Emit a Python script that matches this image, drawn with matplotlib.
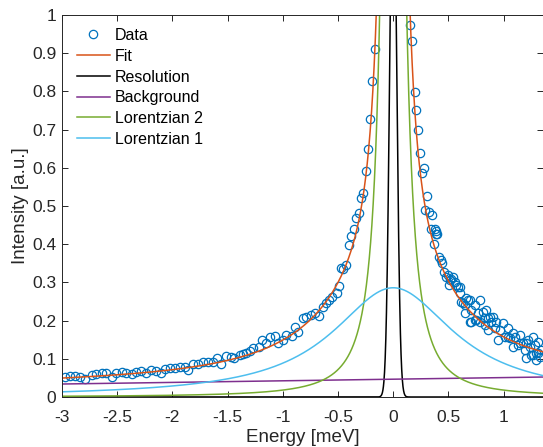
"""
Quasi-elastic spectrum: data points with a fitted model
(resolution + linear background + two Lorentzians).
"""

import numpy as np
import matplotlib
matplotlib.use('Agg')
from matplotlib import pyplot as plt

plt.rcParams['font.family'] = ['Liberation Sans', 'DejaVu Sans']
plt.rcParams['axes.unicode_minus'] = False

data_x = [
    -2.97, -2.93, -2.88, -2.84, -2.79, -2.73, -2.69, -2.64, -2.60, -2.55,
    -2.51, -2.46, -2.42, -2.37, -2.33, -2.28, -2.24, -2.19, -2.15, -2.10,
    -2.07, -2.02, -1.98, -1.93, -1.89, -1.86, -1.81, -1.77, -1.72, -1.68,
    -1.63, -1.60, -1.56, -1.51, -1.47, -1.44, -1.39, -1.36, -1.33, -1.30,
    -1.27, -1.22, -1.19, -1.15, -1.12, -1.07, -1.04, -1.00, -0.97, -0.92,
    -0.89, -0.86, -0.82, -0.79, -0.74, -0.71, -0.67, -0.64, -0.61, -0.58,
    -0.55, -0.51, -0.49, -0.469, -0.455, -0.424, -0.40, -0.379, -0.358, -0.333,
    -0.313, -0.294, -0.274, -0.249, -0.228, -0.207, -0.189, -0.168,
    0.156, 0.174, 0.195, 0.210, 0.225, 0.240, 0.261, 0.276, 0.290, 0.310,
    0.325, 0.340, 0.355, 0.370, 0.376, 0.385, 0.391, 0.400, 0.415, 0.437,
    0.446, 0.460, 0.482, 0.497, 0.506, 0.512, 0.527, 0.542, 0.557, 0.572,
    0.587, 0.602, 0.602, 0.618, 0.633, 0.648, 0.648, 0.663, 0.678, 0.693,
    0.693, 0.708, 0.708, 0.738, 0.738, 0.753, 0.768, 0.784, 0.784, 0.813,
    0.829, 0.829, 0.844, 0.859, 0.859, 0.874, 0.889, 0.904, 0.919, 0.935,
    0.950, 0.965, 0.995, 1.010, 1.040, 1.040, 1.055, 1.085, 1.085, 1.100,
    1.131, 1.146, 1.146, 1.176, 1.191, 1.206, 1.206, 1.221, 1.236, 1.252,
    1.266, 1.266, 1.282, 1.297, 1.297, 1.312, 1.312, 1.327, 1.342,
]
data_y = [
    0.053, 0.055, 0.055, 0.052, 0.046, 0.058, 0.060, 0.062, 0.062, 0.053,
    0.062, 0.066, 0.062, 0.060, 0.066, 0.069, 0.064, 0.071, 0.069, 0.064,
    0.072, 0.075, 0.075, 0.079, 0.079, 0.070, 0.086, 0.086, 0.092, 0.092,
    0.092, 0.101, 0.086, 0.107, 0.104, 0.101, 0.110, 0.113, 0.116, 0.121,
    0.127, 0.130, 0.149, 0.141, 0.156, 0.160, 0.141, 0.149, 0.162, 0.160,
    0.184, 0.171, 0.206, 0.210, 0.215, 0.219, 0.212, 0.236, 0.245, 0.254,
    0.263, 0.271, 0.291, 0.337, 0.334, 0.346, 0.398, 0.421, 0.440, 0.469,
    0.481, 0.522, 0.535, 0.592, 0.649, 0.728, 0.827, 0.910,
    0.974, 0.932, 0.798, 0.751, 0.700, 0.640, 0.587, 0.599, 0.490, 0.526,
    0.485, 0.440, 0.476, 0.401, 0.441, 0.435, 0.428, 0.426, 0.367, 0.359,
    0.350, 0.328, 0.315, 0.319, 0.293, 0.306, 0.309, 0.315, 0.302, 0.293,
    0.289, 0.289, 0.271, 0.250, 0.245, 0.241, 0.219, 0.258, 0.254, 0.254,
    0.197, 0.228, 0.197, 0.241, 0.202, 0.202, 0.219, 0.254, 0.197, 0.223,
    0.206, 0.188, 0.228, 0.175, 0.206, 0.210, 0.197, 0.210, 0.180, 0.197,
    0.149, 0.175, 0.193, 0.158, 0.180, 0.158, 0.154, 0.132, 0.167, 0.158,
    0.136, 0.162, 0.141, 0.141, 0.123, 0.101, 0.141, 0.149, 0.132, 0.110,
    0.158, 0.110, 0.136, 0.097, 0.114, 0.145, 0.114, 0.105, 0.123,
]

# --- Fit parameters (estimated from the figure) ---
bg_at_zero = 0.0466       # background level at E = 0
bg_slope = 0.0042         # background slope per meV
lor1_amp, lor1_hwhm = 0.286, 0.67
lor2_amp, lor2_hwhm = 6.0, 0.055
res_amp, res_sigma = 1.44, 0.0315

x_min, x_max = -3.0, 1.357

e = np.linspace(x_min, x_max, 3000)
background = bg_at_zero + bg_slope * e
lorentz1 = lor1_amp * lor1_hwhm**2 / (e**2 + lor1_hwhm**2)
lorentz2 = lor2_amp * lor2_hwhm**2 / (e**2 + lor2_hwhm**2)
resolution = res_amp * np.exp(-e**2 / (2 * res_sigma**2))
fit = background + lorentz1 + lorentz2 + resolution

# --- Figure ---
fig = plt.figure(figsize=(5.43, 4.47), dpi=100)
ax = fig.add_axes([62/543, 50/447, 481/543, 382/447])

ax.plot(data_x, data_y, 'o', mfc='none', mec='#0072BD', ms=6, mew=0.9,
        label='Data')
ax.plot(e, fit, color='#D95319', lw=1.1, label='Fit')
ax.plot(e, resolution, color='black', lw=1.1, label='Resolution')
ax.plot(e, background, color='#7E2F8E', lw=1.1, label='Background')
ax.plot(e, lorentz2, color='#77AC30', lw=1.1, label='Lorentzian 2')
ax.plot(e, lorentz1, color='#4DBEEE', lw=1.1, label='Lorentzian 1')

ax.set_xlim(x_min, x_max)
ax.set_ylim(0, 1)
ax.set_xticks([-3, -2.5, -2, -1.5, -1, -0.5, 0, 0.5, 1])
ax.set_xticklabels(['-3', '-2.5', '-2', '-1.5', '-1', '-0.5', '0', '0.5', '1'])
ax.set_yticks(np.arange(0, 1.01, 0.1))
ax.set_yticklabels(['0', '0.1', '0.2', '0.3', '0.4', '0.5', '0.6', '0.7',
                    '0.8', '0.9', '1'])

for sp in ax.spines.values():
    sp.set_color('#262626')
    sp.set_linewidth(0.7)
ax.tick_params(direction='in', top=True, right=True, length=4, width=0.7,
               color='#262626', labelcolor='#262626', labelsize=12.5)
ax.tick_params(axis='x', pad=9)
ax.tick_params(axis='y', pad=4)

ax.set_xlabel('Energy [meV]', fontsize=13.5, color='#262626', labelpad=3)
ax.set_ylabel('Intensity [a.u.]', fontsize=13.5, color='#262626', labelpad=2)

leg = ax.legend(loc='upper left', bbox_to_anchor=(15/481, 1 - 13/382),
                frameon=False, fontsize=11.5, borderaxespad=0, borderpad=0,
                handlelength=2.05, handletextpad=0.3, labelspacing=0.36)
for t in leg.get_texts():
    t.set_color('black')

fig.savefig('out.png', dpi=100)
